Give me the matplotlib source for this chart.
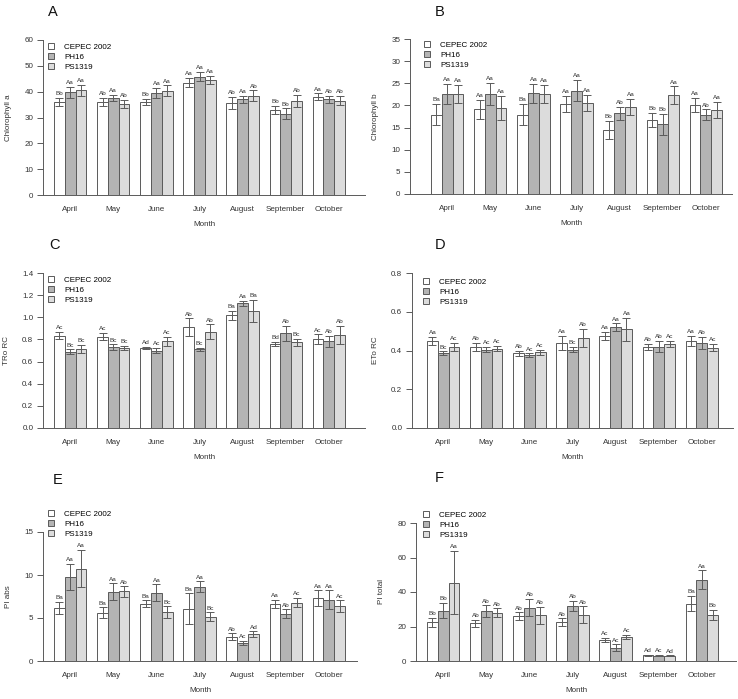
import matplotlib
matplotlib.use("Agg")
import matplotlib.pyplot as plt
from matplotlib.patches import Patch
import numpy as np

plt.rcParams['font.family'] = ['Liberation Sans', 'DejaVu Sans']

months = ["April", "May", "June", "July", "August", "September", "October"]
genotypes = ["CEPEC 2002", "PH16", "PS1319"]

# Chlorophyll a
chla_mean = [[36.1, 36.0, 36.0, 43.5, 35.5, 33.0, 38.0],
             [39.7, 37.5, 39.5, 45.8, 37.0, 31.5, 37.0],
             [40.5, 35.2, 40.4, 44.6, 38.5, 36.5, 36.5]]
chla_err = [[1.5, 1.5, 1.3, 1.8, 2.4, 1.5, 1.3],
            [2.0, 1.2, 1.8, 1.8, 1.5, 2.0, 1.3],
            [2.0, 1.5, 2.0, 1.5, 2.0, 2.4, 1.7]]
chla_lab = [["Bb", "Ab", "Bb", "Aa", "Ab", "Bb", "Aa"],
            ["Aa", "Aa", "Aa", "Aa", "Aa", "Bb", "Ab"],
            ["Aa", "Ab", "Aa", "Aa", "Ab", "Ab", "Ab"]]

# Chlorophyll b
chlb_mean = [[17.9, 19.1, 17.9, 20.3, 14.5, 16.7, 20.1],
             [22.6, 22.6, 22.7, 23.3, 18.2, 15.7, 17.9],
             [22.6, 19.4, 22.6, 20.6, 19.7, 22.3, 18.9]]
chlb_err = [[2.4, 2.2, 2.4, 1.8, 2.0, 1.6, 1.5],
            [2.2, 2.5, 2.2, 2.4, 1.5, 2.4, 1.2],
            [2.1, 2.8, 2.1, 1.8, 1.8, 2.0, 1.8]]
chlb_lab = [["Ba", "Aa", "Ba", "Aa", "Bb", "Bb", "Aa"],
            ["Aa", "Aa", "Aa", "Aa", "Ab", "Bb", "Ab"],
            ["Aa", "Aa", "Aa", "Aa", "Aa", "Aa", "Aa"]]

# TRo/RC
tro_mean = [[0.835, 0.825, 0.72, 0.91, 1.02, 0.76, 0.80],
            [0.69, 0.73, 0.70, 0.71, 1.125, 0.855, 0.785],
            [0.715, 0.725, 0.785, 0.87, 1.06, 0.775, 0.84]]
tro_err = [[0.03, 0.03, 0.01, 0.08, 0.04, 0.02, 0.045],
           [0.02, 0.025, 0.025, 0.015, 0.025, 0.07, 0.05],
           [0.035, 0.02, 0.04, 0.065, 0.10, 0.03, 0.08]]
tro_lab = [["Ac", "Ac", "Ad", "Ab", "Ba", "Bd", "Ac"],
           ["Bc", "Bc", "Ac", "Bc", "Aa", "Ab", "Ab"],
           ["Bc", "Bc", "Ac", "Ab", "Ba", "Bc", "Ab"]]

# ETo/RC
eto_mean = [[0.45, 0.42, 0.385, 0.44, 0.475, 0.42, 0.45],
            [0.385, 0.405, 0.375, 0.405, 0.52, 0.42, 0.44],
            [0.42, 0.41, 0.39, 0.465, 0.51, 0.435, 0.415]]
eto_err = [[0.02, 0.02, 0.015, 0.035, 0.02, 0.015, 0.025],
           [0.01, 0.015, 0.01, 0.015, 0.02, 0.03, 0.03],
           [0.02, 0.015, 0.015, 0.045, 0.06, 0.015, 0.02]]
eto_lab = [["Aa", "Ab", "Ab", "Aa", "Aa", "Ab", "Aa"],
           ["Bc", "Ac", "Ac", "Bc", "Aa", "Ab", "Ab"],
           ["Ac", "Ac", "Ac", "Ab", "Aa", "Ac", "Ac"]]

# PI abs
piabs_mean = [[6.2, 5.6, 6.65, 6.05, 2.8, 6.65, 7.3],
              [9.8, 8.05, 7.95, 8.65, 2.1, 5.5, 7.1],
              [10.75, 8.1, 5.65, 5.15, 3.1, 6.8, 6.35]]
piabs_err = [[0.7, 0.65, 0.4, 1.8, 0.4, 0.45, 0.9],
             [1.5, 1.0, 0.95, 0.6, 0.25, 0.5, 1.1],
             [2.2, 0.6, 0.7, 0.5, 0.35, 0.55, 0.7]]
piabs_lab = [["Ba", "Ba", "Ba", "Ba", "Ab", "Aa", "Aa"],
             ["Aa", "Aa", "Aa", "Aa", "Ac", "Ab", "Aa"],
             ["Aa", "Ab", "Bc", "Bc", "Ad", "Ac", "Ac"]]

# PI total
pitot_mean = [[22.5, 21.8, 26.0, 22.5, 12.1, 3.2, 33.2],
              [29.2, 28.8, 31.0, 32.0, 7.8, 3.1, 47.0],
              [45.5, 28.0, 26.5, 26.8, 13.8, 3.0, 26.5]]
pitot_err = [[2.5, 2.2, 2.3, 2.3, 1.2, 0.3, 4.5],
             [4.5, 3.5, 5.0, 3.0, 1.8, 0.3, 5.5],
             [18.5, 2.5, 4.8, 4.8, 1.2, 0.3, 3.0]]
pitot_lab = [["Bb", "Ab", "Ab", "Ab", "Ac", "Ad", "Ba"],
             ["Bb", "Ab", "Ab", "Ab", "Ac", "Ac", "Aa"],
             ["Aa", "Ab", "Ab", "Ab", "Ac", "Ad", "Bb"]]

W, H = 738, 699
fills = ["white", "#b4b4b4", "#dcdcdc"]
edge = "#5a5a5a"

# (letter, ylabel, means, errs, labels, yticks, ticklabel format,
#  axis left px, axis right px, bar start px, bar end px, top px, bottom px,
#  letter x, letter y, legend x, legend y)
panels = [
    ("A", "Chlorophyll a", chla_mean, chla_err, chla_lab,
     [0, 10, 20, 30, 40, 50, 60], None,
     43, 365, 54, 345, 40, 195, 48, 12, 48, 43),
    ("B", "Chlorophyll b", chlb_mean, chlb_err, chlb_lab,
     [0, 5, 10, 15, 20, 25, 30, 35], None,
     410, 732, 431, 722, 39, 194, 435, 12, 424, 41),
    ("C", "TRo RC", tro_mean, tro_err, tro_lab,
     [0, 0.2, 0.4, 0.6, 0.8, 1.0, 1.2, 1.4], "%.1f",
     43, 365, 54, 345, 273, 428, 49, 245, 48, 276),
    ("D", "ETo RC", eto_mean, eto_err, eto_lab,
     [0, 0.2, 0.4, 0.6, 0.8], "%.1f",
     412, 733, 427, 718, 273, 428, 435, 245, 423, 278),
    ("E", "PI abs", piabs_mean, piabs_err, piabs_lab,
     [0, 5, 10, 15], None,
     43, 357, 54, 345, 532, 661, 53, 480, 48, 510),
    ("F", "PI total", pitot_mean, pitot_err, pitot_lab,
     [0, 20, 40, 60, 80], None,
     416, 736, 427, 718, 523, 661, 435, 478, 423, 511),
]

fig = plt.figure(figsize=(W / 100, H / 100), dpi=100)

for (letter, ylab, means, errs, labs, yt, fmt,
     al, ar, bs, be, top, bot, lx, ly, gx, gy) in panels:
    ax = fig.add_axes([al / W, 1 - bot / H, (ar - al) / W, (bot - top) / H])
    scale = (be - bs) / 27.0
    ax.set_xlim(1 - (bs - al) / scale, 28 + (ar - be) / scale)
    ax.set_ylim(yt[0], yt[-1])

    for j in range(3):
        x = np.arange(len(months)) * 4 + 1.5 + j
        m = np.array(means[j])
        e = np.array(errs[j])
        ax.bar(x, m, width=1.0, color=fills[j], edgecolor=edge, linewidth=0.7,
               label=genotypes[j], zorder=2)
        ax.errorbar(x, m, yerr=e, fmt="none", ecolor=edge, elinewidth=0.7,
                    capsize=3.2, capthick=0.7, zorder=3)
        pad = (yt[-1] - yt[0]) * 0.012
        for xi, mi, ei, t in zip(x, m, e, labs[j]):
            ax.text(xi, mi + ei + pad, t, ha="center", va="bottom",
                    fontsize=4.6, color="#333333", zorder=4)

    ax.set_xticks(np.arange(len(months)) * 4 + 2.5)
    ax.set_xticklabels(months)
    ax.set_yticks(yt)
    if fmt:
        ax.set_yticklabels([fmt % v for v in yt])
    ax.tick_params(axis="x", length=0, pad=8, labelsize=5.8, colors="#333333")
    ax.tick_params(axis="y", length=4, width=0.7, pad=3, labelsize=5.8,
                   color=edge, labelcolor="#333333")
    for s in ["top", "right"]:
        ax.spines[s].set_visible(False)
    for s in ["left", "bottom"]:
        ax.spines[s].set_color(edge)
        ax.spines[s].set_linewidth(0.7)
    ax.set_xlabel("Month", fontsize=5.8, color="#333333", labelpad=6)
    ax.set_ylabel(ylab, fontsize=5.8, color="#333333", labelpad=9)

    handles = [Patch(facecolor=fills[k], edgecolor=edge, linewidth=0.7,
                     label=genotypes[k]) for k in range(3)]
    ax.legend(handles=handles, loc="upper left",
              bbox_to_anchor=(gx / W, 1 - gy / H), bbox_transform=fig.transFigure,
              frameon=False, fontsize=5.8, handlelength=0.7, handleheight=0.7,
              handletextpad=1.3, labelspacing=0.3, borderpad=0, borderaxespad=0)

    fig.text(lx / W, 1 - ly / H, letter, fontsize=10.5, ha="left", va="center",
             color="#111111")

fig.savefig("out.png", dpi=100)
